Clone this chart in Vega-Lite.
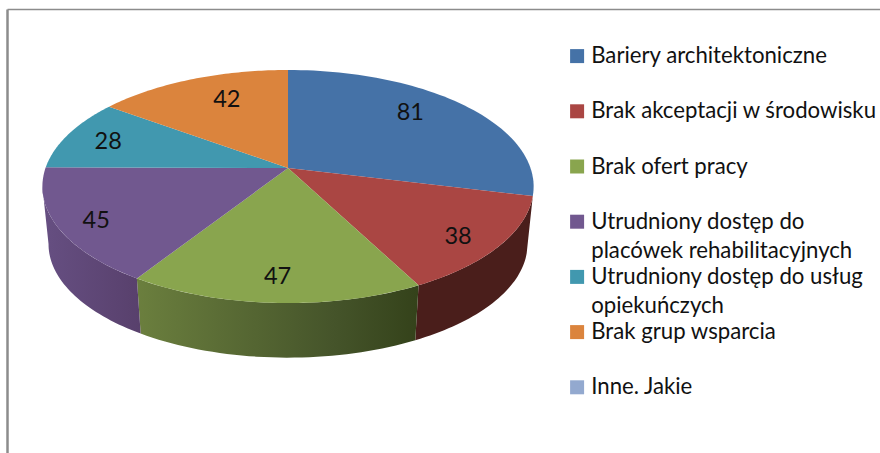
{"$schema":"https://vega.github.io/schema/vega-lite/v6.json","width":873,"height":444,"autosize":"none","padding":{"left":7,"top":9,"right":0,"bottom":0},"background":"white","config":{"view":{"stroke":null},"font":"Lato"},"data":{"values":[{"lp":0,"kategoria":"Bariery architektoniczne","liczba":81},{"lp":1,"kategoria":"Brak akceptacji w środowisku","liczba":38},{"lp":2,"kategoria":"Brak ofert pracy","liczba":47},{"lp":3,"kategoria":"Utrudniony dostęp do placówek rehabilitacyjnych","liczba":45},{"lp":4,"kategoria":"Utrudniony dostęp do usług opiekuńczych","liczba":28},{"lp":5,"kategoria":"Brak grup wsparcia","liczba":42},{"lp":6,"kategoria":"Inne. Jakie","liczba":0}]},"transform":[{"window":[{"op":"sum","field":"liczba","as":"cum"}],"sort":[{"field":"lp"}],"frame":[null,0]},{"joinaggregate":[{"op":"sum","field":"liczba","as":"total"}]},{"calculate":"(datum.cum-datum.liczba)/datum.total*360","as":"a"},{"calculate":"datum.cum/datum.total*360","as":"b"}],"encoding":{"x":{"field":"X","type":"quantitative","scale":{"domain":[-1.1588,2.4412],"nice":false,"zero":false},"axis":{"orient":"top","title":null,"ticks":false,"labels":false,"grid":false,"domainColor":"#8c8c8c","domainWidth":1.5}},"y":{"field":"Y","type":"quantitative","scale":{"domain":[-2.5088,1.3996],"nice":false,"zero":false},"axis":{"orient":"left","title":null,"ticks":false,"labels":false,"grid":false,"domainColor":"#8c8c8c","domainWidth":2.5}}},"layer":[{"transform":[{"filter":"datum.lp==1"},{"calculate":"max(datum.a,99.1)","as":"a1"},{"calculate":"min(datum.b,260.9)","as":"b1"},{"calculate":"sequence(0,80)","as":"i"},{"flatten":["i"]},{"calculate":"datum.i<40?datum.i/39:(79-datum.i)/39","as":"t"},{"calculate":"(datum.a1+(datum.b1-datum.a1)*datum.t)*PI/180","as":"th"},{"calculate":"1+0.159*cos(datum.th)","as":"w"},{"calculate":"(datum.i<40?1:0.975)*sin(datum.th)/datum.w","as":"X"},{"calculate":"(datum.i<40?1:0.975)*cos(datum.th)/datum.w-(datum.i<40?0:0.51)","as":"Y"}],"mark":{"type":"line","stroke":null,"fill":"#4a1e1b"},"encoding":{"order":{"field":"i","type":"quantitative"}}},{"transform":[{"filter":"datum.lp==2"},{"calculate":"max(datum.a,99.1)","as":"a1"},{"calculate":"min(datum.b,260.9)","as":"b1"},{"calculate":"sequence(0,80)","as":"i"},{"flatten":["i"]},{"calculate":"datum.i<40?datum.i/39:(79-datum.i)/39","as":"t"},{"calculate":"(datum.a1+(datum.b1-datum.a1)*datum.t)*PI/180","as":"th"},{"calculate":"1+0.159*cos(datum.th)","as":"w"},{"calculate":"(datum.i<40?1:0.975)*sin(datum.th)/datum.w","as":"X"},{"calculate":"(datum.i<40?1:0.975)*cos(datum.th)/datum.w-(datum.i<40?0:0.51)","as":"Y"}],"mark":{"type":"line","stroke":null,"fill":{"gradient":"linear","x1":0,"y1":0,"x2":1,"y2":0,"stops":[{"offset":0,"color":"#6b7f3e"},{"offset":0.7,"color":"#45542a"},{"offset":1,"color":"#34421a"}]}},"encoding":{"order":{"field":"i","type":"quantitative"}}},{"transform":[{"filter":"datum.lp==3"},{"calculate":"max(datum.a,99.1)","as":"a1"},{"calculate":"min(datum.b,260.9)","as":"b1"},{"calculate":"sequence(0,80)","as":"i"},{"flatten":["i"]},{"calculate":"datum.i<40?datum.i/39:(79-datum.i)/39","as":"t"},{"calculate":"(datum.a1+(datum.b1-datum.a1)*datum.t)*PI/180","as":"th"},{"calculate":"1+0.159*cos(datum.th)","as":"w"},{"calculate":"(datum.i<40?1:0.975)*sin(datum.th)/datum.w","as":"X"},{"calculate":"(datum.i<40?1:0.975)*cos(datum.th)/datum.w-(datum.i<40?0:0.51)","as":"Y"}],"mark":{"type":"line","stroke":null,"fill":{"gradient":"linear","x1":0,"y1":0,"x2":1,"y2":0,"stops":[{"offset":0,"color":"#664f82"},{"offset":1,"color":"#58406c"}]}},"encoding":{"order":{"field":"i","type":"quantitative"}}},{"transform":[{"calculate":"sequence(0,61)","as":"i"},{"flatten":["i"]},{"calculate":"(datum.a+(datum.b-datum.a)*(datum.i-1)/59)*PI/180","as":"th"},{"calculate":"1+0.159*cos(datum.th)","as":"w"},{"calculate":"datum.i==0?0:sin(datum.th)/datum.w","as":"X"},{"calculate":"datum.i==0?0:cos(datum.th)/datum.w","as":"Y"}],"mark":{"type":"line","stroke":null},"encoding":{"order":{"field":"i","type":"quantitative"},"fill":{"field":"kategoria","type":"nominal","scale":{"domain":["Bariery architektoniczne","Brak akceptacji w środowisku","Brak ofert pracy","Utrudniony dostęp do placówek rehabilitacyjnych","Utrudniony dostęp do usług opiekuńczych","Brak grup wsparcia","Inne. Jakie"],"range":["#4572A7","#AA4643","#89A54E","#71588F","#4198AF","#DB843D","#93A9CF"]},"legend":{"title":null,"orient":"none","legendX":559,"legendY":36,"padding":0,"symbolType":"square","symbolSize":196,"symbolStrokeWidth":0,"symbolOpacity":1,"labelFont":"Lato","labelFontSize":22.2,"labelColor":"#111111","labelOffset":3,"labelLimit":400,"rowPadding":3.2,"gridAlign":"all","labelExpr":"datum.label=='Utrudniony dostęp do placówek rehabilitacyjnych'?['Utrudniony dostęp do','placówek rehabilitacyjnych']:datum.label=='Utrudniony dostęp do usług opiekuńczych'?['Utrudniony dostęp do usług','opiekuńczych']:datum.label","encoding":{"labels":{"lineHeight":{"value":29}}}}}}},{"transform":[{"filter":"datum.liczba>0"},{"calculate":"((datum.a+datum.b)/2+[-5.7,2.8,0,-2,-1,4][datum.lp])*PI/180","as":"th"},{"calculate":"[0.757,0.846,0.834,0.855,0.806,0.717][datum.lp]","as":"f"},{"calculate":"1+0.159*datum.f*cos(datum.th)","as":"w"},{"calculate":"datum.f*sin(datum.th)/datum.w","as":"X"},{"calculate":"datum.f*cos(datum.th)/datum.w","as":"Y"}],"mark":{"type":"text","font":"Lato","fontSize":23.5,"color":"#111111"},"encoding":{"text":{"field":"liczba","type":"quantitative"}}}]}
